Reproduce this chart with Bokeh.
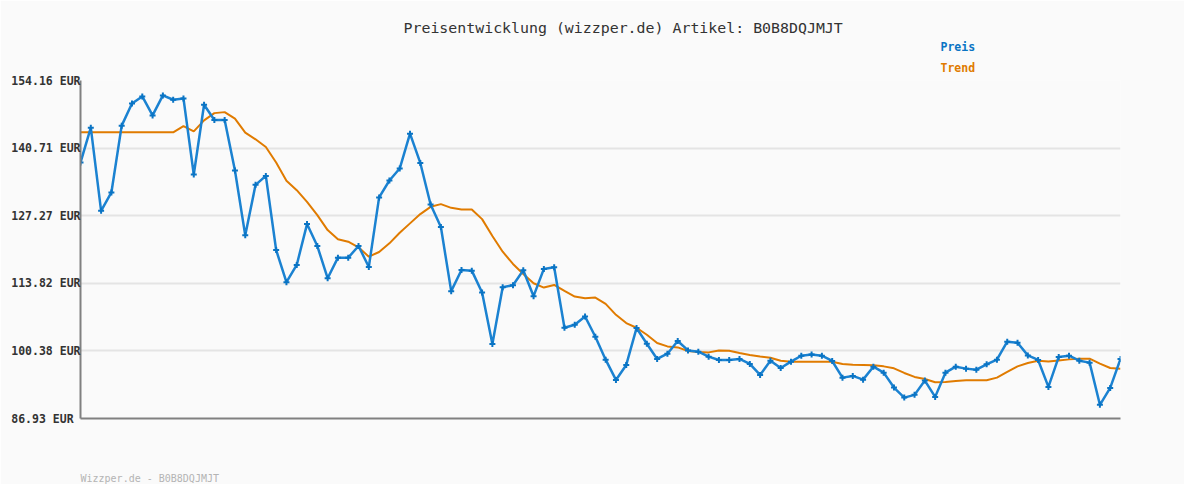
from bokeh.plotting import figure
from bokeh.models import Title, FixedTicker, Range1d, CustomJSTickFormatter
from bokeh.embed import file_html
from bokeh.resources import INLINE

# ---- data -------------------------------------------------------------
price = [137.84, 144.78, 128.24, 131.89, 145.18, 149.60, 150.99, 147.22, 151.19, 150.33,
         150.59, 135.46, 149.34, 146.29, 146.29, 136.25, 123.36, 133.40, 135.18, 120.45,
         114.04, 117.47, 125.60, 121.24, 114.83, 118.92, 118.92, 121.24, 117.07, 130.90,
         134.27, 136.65, 143.59, 137.76, 129.51, 125.01, 112.26, 116.48, 116.34, 111.98,
         101.74, 113.05, 113.45, 116.42, 111.26, 116.68, 117.01, 104.98, 105.57, 107.22,
         103.19, 98.63, 94.60, 97.58, 104.92, 101.80, 98.77, 99.82, 102.34, 100.47,
         100.22, 99.23, 98.57, 98.57, 98.77, 97.78, 95.60, 98.43, 96.98, 98.23,
         99.42, 99.68, 99.42, 98.37, 95.06, 95.40, 94.66, 97.24, 96.05, 93.08,
         91.09, 91.63, 94.47, 91.23, 96.05, 97.24, 96.85, 96.65, 97.70, 98.63,
         102.20, 102.00, 99.48, 98.57, 93.22, 99.17, 99.42, 98.43, 98.04, 89.65,
         93.02, 98.77]

trend = [143.85, 143.85, 143.85, 143.85, 143.85, 143.85, 143.85, 143.85, 143.85, 143.85,
         145.10, 144.05, 146.23, 147.67, 147.87, 146.56, 143.79, 142.46, 140.93, 137.84,
         134.23, 132.34, 130.02, 127.39, 124.41, 122.57, 122.09, 120.98, 119.12, 120.05,
         121.77, 123.88, 125.74, 127.59, 129.03, 129.57, 128.83, 128.52, 128.52, 126.59,
         123.22, 120.11, 117.67, 115.69, 113.84, 112.97, 113.50, 112.31, 111.18, 110.87,
         110.99, 109.74, 107.55, 105.91, 104.98, 103.59, 101.94, 101.27, 101.07, 100.36,
         100.16, 100.08, 100.47, 100.41, 99.96, 99.56, 99.28, 99.03, 98.43, 98.23,
         98.23, 98.23, 98.23, 98.23, 97.78, 97.64, 97.58, 97.50, 97.30, 96.91,
         95.99, 95.20, 94.80, 94.13, 94.21, 94.41, 94.53, 94.53, 94.53, 95.06,
         96.19, 97.30, 97.98, 98.43, 98.29, 98.49, 98.69, 98.83, 98.83, 97.84,
         96.98, 96.85]

y_ticks = [86.93, 100.38, 113.82, 127.27, 140.71, 154.16]
series_names = ["Preis", "Trend"]
title_text = "Preisentwicklung (wizzper.de) Artikel: B0B8DQJMJT"
footer_text = "Wizzper.de - B0B8DQJMJT"

idx = list(range(len(price)))

BG = "#fafafa"
BLUE = "#1b82d1"
BLUE_DARK = "#0a74c4"
ORANGE = "#e07b00"
MONO = "DejaVu Sans Mono"

p = figure(width=1184, height=484, output_backend="svg", toolbar_location=None, title=None,
           x_range=Range1d(0, len(price) - 1), y_range=Range1d(y_ticks[0], y_ticks[-1]),
           min_border_left=80, min_border_right=64, min_border_top=80, min_border_bottom=65,
           background_fill_color=BG, border_fill_color=BG, outline_line_color=None)

# axes
p.xaxis.ticker = FixedTicker(ticks=[])
p.xaxis.major_label_text_font_size = "0px"
p.xaxis.axis_line_color = "#808080"
p.xaxis.axis_line_width = 2
p.xaxis.major_tick_line_color = None
p.xaxis.minor_tick_line_color = None
p.xaxis.major_tick_out = 0
p.xaxis.minor_tick_out = 0
p.xaxis.major_label_standoff = 0
p.xgrid.grid_line_color = None

p.yaxis.ticker = FixedTicker(ticks=y_ticks)
# labels are left-aligned in the original: pad with non-breaking spaces
p.yaxis.formatter = CustomJSTickFormatter(
    code='return (tick.toFixed(2) + " EUR").padEnd(10, "\\u00a0");')
p.yaxis.axis_line_color = "#808080"
p.yaxis.axis_line_width = 2
p.yaxis.major_tick_line_color = None
p.yaxis.minor_tick_line_color = None
p.yaxis.major_tick_out = 0
p.yaxis.minor_tick_out = 0
p.yaxis.major_label_standoff = 0
p.yaxis.major_label_text_font = MONO
p.yaxis.major_label_text_font_style = "bold"
p.yaxis.major_label_text_font_size = "11.5px"
p.yaxis.major_label_text_color = "#333333"
p.ygrid.ticker = FixedTicker(ticks=y_ticks)
p.ygrid.grid_line_color = "#e4e4e4"
p.ygrid.grid_line_width = 2

# series
p.line(idx, trend, line_color=ORANGE, line_width=2)
p.line(idx, price, line_color=BLUE, line_width=2.5)
p.scatter(idx, price, marker="cross", size=6, line_width=2, line_color=BLUE_DARK)

# texts outside the frame: stacked titles (nearest to the frame first)
p.add_layout(Title(text=series_names[1], align="left", offset=860, standoff=10,
                   vertical_align="middle", text_font=MONO, text_font_size="11.5px",
                   text_font_style="bold", text_color=ORANGE), "above")
p.add_layout(Title(text=series_names[0], align="left", offset=860, standoff=0,
                   vertical_align="middle", text_font=MONO, text_font_size="11.5px",
                   text_font_style="bold", text_color=BLUE_DARK), "above")
p.add_layout(Title(text=title_text, align="left", offset=323, standoff=2,
                   vertical_align="middle", text_font=MONO, text_font_size="14.9px",
                   text_font_style="normal", text_color="#333333"), "above")
p.add_layout(Title(text="\n\n\n\n" + footer_text, align="left", offset=0, standoff=0,
                   vertical_align="bottom", text_font=MONO, text_font_size="10px",
                   text_line_height=1.2, text_font_style="normal",
                   text_color="#b4b4b4"), "below")

open("out.html", "w").write(file_html(p, INLINE))
